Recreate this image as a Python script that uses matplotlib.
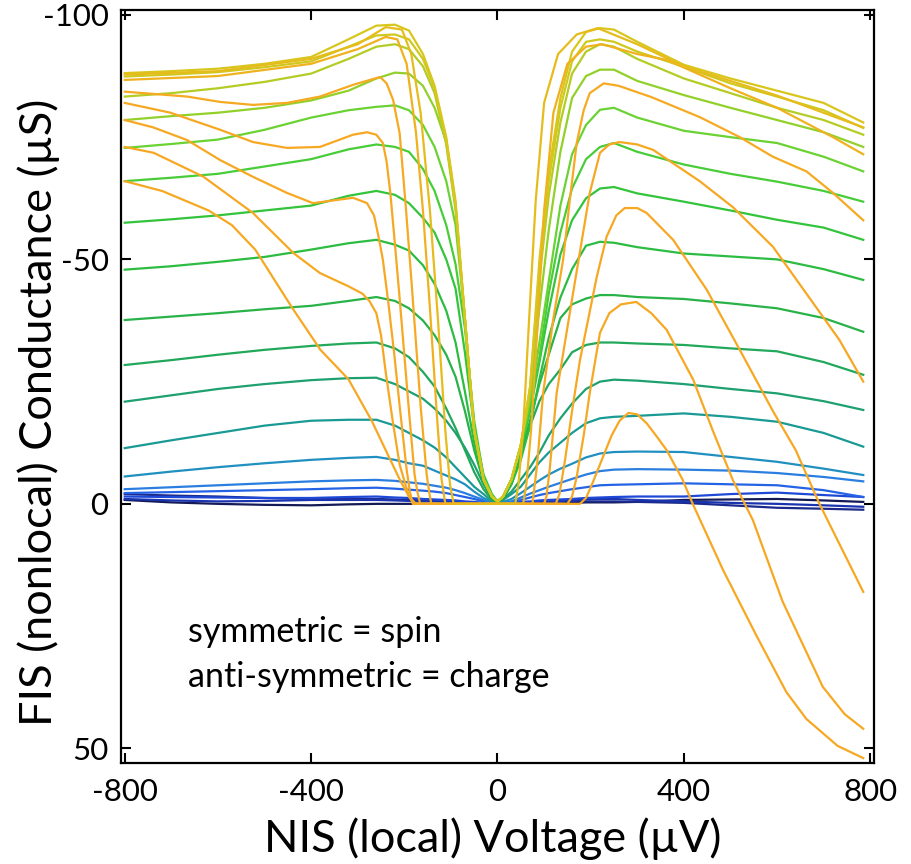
import matplotlib
matplotlib.use("Agg")
import matplotlib.pyplot as plt

plt.rcParams['font.family'] = ['Lato', 'DejaVu Sans']
plt.rcParams['axes.unicode_minus'] = False

# bias grid (uV) shared by the symmetric traces
xg = [-800, -700, -600, -500, -400, -320, -260, -220, -190, -160, -135, -110, -90, -70, -50,
      -30, -12, 0, 12, 30, 50, 70, 90, 110, 135, 160, 190, 220, 250, 300,
      400, 500, 600, 700, 785]

# symmetric traces, top (yellow) to bottom (navy), uS
green_curves = [
    [-88.1, -88.5, -89.0, -90.0, -91.4, -95.0, -97.8, -98.0, -96.8, -92.0, -85.5, -75.0, -62.0, -38.0, -15.0,
     -5.0, -1.5, -0.5, -1.5, -5.0, -12.0, -24.0, -50.0, -68.0, -83.0, -92.5, -96.5, -97.3, -97.0, -94.5,
     -89.8, -87.0, -84.5, -82.0, -78.0],
    [-87.4, -87.8, -88.3, -89.3, -90.5, -93.5, -95.8, -96.0, -95.0, -91.0, -85.0, -74.5, -61.0, -38.0, -15.0,
     -5.0, -1.5, -0.5, -1.5, -5.0, -12.0, -24.0, -48.0, -66.0, -81.0, -90.5, -94.5, -95.0, -94.5, -92.5,
     -89.4, -86.0, -83.3, -80.5, -76.9],
    [-83.3, -84.0, -85.0, -86.3, -88.0, -91.0, -93.5, -94.0, -93.0, -89.5, -84.0, -73.5, -60.0, -37.5, -15.0,
     -5.0, -1.5, -0.5, -1.5, -5.0, -12.0, -23.0, -46.0, -63.0, -78.0, -88.0, -92.5, -94.0, -93.5, -91.0,
     -87.0, -84.0, -81.0, -78.5, -75.5],
    [-78.5, -79.3, -80.0, -81.0, -82.5, -84.5, -87.0, -88.2, -88.0, -85.5, -81.0, -74.0, -61.0, -38.0, -15.0,
     -5.0, -1.5, -0.5, -1.5, -5.0, -12.0, -22.0, -40.0, -56.0, -72.0, -83.0, -87.5, -88.8, -88.8, -86.5,
     -83.6, -81.0, -78.5, -76.0, -73.0],
    [-72.8, -73.6, -74.5, -76.5, -79.0, -80.5, -81.2, -81.5, -80.5, -77.5, -73.0, -66.0, -57.0, -38.0, -15.0,
     -5.0, -1.5, -0.5, -1.5, -5.0, -12.0, -21.0, -33.0, -45.5, -61.0, -71.5, -77.5, -80.6, -81.0, -79.0,
     -76.3, -75.0, -73.8, -71.0, -68.0],
    [-66.0, -66.7, -67.5, -69.0, -70.5, -72.5, -73.5, -73.0, -72.0, -68.5, -64.0, -57.0, -49.0, -36.0, -17.0,
     -5.5, -1.5, -0.5, -1.5, -5.0, -11.5, -20.0, -30.0, -43.0, -55.5, -64.5, -70.5, -73.0, -73.8, -72.0,
     -69.4, -67.5, -65.9, -64.0, -61.8],
    [-57.5, -58.2, -59.0, -60.0, -61.0, -63.0, -64.0, -63.2, -61.5, -58.5, -55.5, -50.0, -44.0, -31.0, -15.5,
     -6.0, -2.0, -0.5, -1.5, -5.0, -11.0, -19.0, -29.0, -39.5, -51.0, -58.0, -62.5, -64.5, -64.8, -63.5,
     -61.8, -60.0, -58.1, -56.5, -54.0],
    [-47.9, -48.6, -49.5, -50.5, -52.0, -53.3, -54.0, -53.0, -51.8, -48.8, -45.0, -39.5, -33.0, -23.0, -12.5,
     -5.0, -1.5, -0.5, -1.5, -4.0, -9.0, -16.0, -25.5, -34.0, -42.2, -48.0, -52.8, -53.6, -53.4, -52.5,
     -51.2, -50.6, -50.0, -48.0, -45.8],
    [-37.6, -38.3, -39.0, -39.8, -40.5, -41.5, -42.3, -41.5, -40.0, -37.5, -34.5, -30.5, -26.0, -19.0, -11.0,
     -4.5, -1.2, -0.4, -1.2, -5.0, -10.5, -17.0, -24.5, -30.5, -38.0, -40.8, -42.0, -42.7, -42.7, -42.3,
     -41.9, -41.0, -40.0, -38.0, -35.2],
    [-28.4, -29.4, -30.5, -31.5, -32.3, -32.8, -33.0, -31.8, -30.0, -27.0, -24.0, -19.5, -15.5, -11.0, -6.5,
     -3.0, -0.8, -0.3, -1.0, -4.0, -10.0, -16.0, -21.0, -24.5, -27.5, -31.0, -32.5, -33.0, -33.0, -32.8,
     -32.5, -31.8, -31.2, -29.0, -26.4],
    [-20.9, -22.2, -23.5, -24.5, -25.3, -25.7, -25.8, -24.5, -23.0, -21.5, -19.5, -17.0, -14.5, -11.5, -8.0,
     -4.0, -1.0, -0.3, -1.0, -2.5, -5.0, -7.5, -10.5, -14.0, -17.5, -20.5, -23.5, -25.0, -25.4, -25.2,
     -24.5, -23.5, -22.6, -21.0, -19.2],
    [-11.4, -13.0, -14.5, -16.0, -17.0, -17.2, -17.2, -16.0, -14.5, -13.0, -11.5, -9.5, -7.5, -5.5, -3.5,
     -2.0, -0.5, -0.2, -0.8, -2.0, -3.5, -6.0, -8.5, -10.5, -12.5, -14.5, -16.5, -17.5, -17.8, -18.0,
     -18.5, -17.8, -16.8, -14.5, -11.7],
    [-5.6, -6.6, -7.5, -8.3, -9.0, -9.4, -9.6, -9.0, -8.3, -7.8, -6.8, -5.8, -5.0, -4.0, -2.5,
     -1.2, -0.4, -0.2, -0.4, -1.0, -2.2, -3.5, -4.8, -6.0, -7.2, -8.2, -9.5, -10.3, -10.6, -10.7,
     -10.6, -9.6, -8.6, -7.2, -5.9],
    [-3.0, -3.4, -3.8, -4.2, -4.6, -4.8, -4.9, -4.7, -4.4, -4.1, -3.7, -3.3, -2.8, -2.2, -1.5,
     -0.8, -0.2, 0.0, -0.2, -0.5, -1.3, -2.1, -2.8, -3.5, -4.3, -5.1, -6.0, -6.7, -7.0, -7.1,
     -7.0, -6.8, -6.3, -5.5, -4.6],
    [-2.2, -2.4, -2.6, -2.8, -3.0, -3.2, -3.3, -3.1, -2.9, -2.7, -2.5, -2.2, -1.8, -1.4, -1.0,
     -0.5, -0.1, 0.0, -0.1, -0.3, -0.8, -1.3, -1.8, -2.2, -2.6, -3.0, -3.4, -3.8, -3.9, -4.0,
     -4.2, -4.0, -3.8, -2.8, -1.4],
    [-1.5, -1.4, -1.3, -1.2, -1.2, -1.4, -1.5, -1.3, -1.2, -1.0, -0.9, -0.8, -0.7, -0.5, -0.4,
     -0.2, -0.1, 0.0, -0.1, -0.2, -0.4, -0.5, -0.7, -0.8, -0.9, -1.0, -1.2, -1.3, -1.4, -1.5,
     -1.5, -2.0, -2.3, -1.8, -1.4],
    [-1.0, -0.7, -0.5, -0.6, -0.8, -0.8, -0.8, -0.7, -0.6, -0.5, -0.5, -0.4, -0.3, -0.3, -0.2,
     -0.1, 0.0, 0.0, 0.0, -0.1, -0.2, -0.3, -0.4, -0.5, -0.6, -0.7, -0.9, -1.0, -1.0, -0.8,
     -0.5, -0.2, 0.0, 0.3, 0.6],
    [-2.0, -1.7, -1.5, -1.2, -1.0, -1.0, -1.0, -0.9, -0.8, -0.7, -0.6, -0.5, -0.4, -0.3, -0.2,
     -0.1, 0.0, 0.0, 0.0, -0.1, -0.2, -0.3, -0.4, -0.4, -0.5, -0.5, -0.5, -0.5, -0.5, -0.4,
     -0.2, 0.3, 0.8, 1.0, 1.2],
    [-0.8, -0.3, 0.0, 0.2, 0.3, 0.1, 0.0, 0.0, 0.0, 0.0, 0.0, 0.0, 0.0, 0.0, 0.0,
     0.0, 0.0, 0.0, 0.0, 0.0, 0.0, 0.0, 0.0, 0.0, -0.1, -0.2, -0.3, -0.3, -0.3, -0.4,
     -0.8, -0.9, -1.0, -0.7, -0.4],
]
green_colors = ['#d9c61c', '#cfc81e', '#b4cc24', '#92d02a', '#6ad232', '#48cc38',
                '#34c43c', '#2cbc42', '#28b248', '#22a85a', '#1ea070', '#1a9a94',
                '#2090c0', '#2a7ee0', '#2462e6', '#1e48d6', '#1a34b0', '#1c2a8c',
                '#141a55']

# anti-symmetric (orange) traces, widest gap first
orange_x = [
    [-800, -720, -620, -570, -520, -480, -440, -380, -320, -270, -240, -210, -190, -175, 0,
     177, 190, 205, 226, 245, 262, 281, 300, 320, 340, 363, 397, 419, 484, 556, 620, 663, 730, 785],
    [-800, -738, -631, -525, -438, -381, -320, -290, -275, -260, -250, -240, -225, -210, -190, -180,
     150, 160, 170, 185, 198, 220, 240, 265, 298, 330, 363, 420, 462, 505, 548, 612, 698, 745, 785],
    [-800, -739, -666, -595, -525, -452, -396, -310, -280, -265, -255, -246, -235, -222, -210, -195, -188, -182,
     125, 133, 145, 160, 177, 213, 234, 255, 273, 300, 320, 377, 449, 520, 591, 640, 691, 785],
    [-800, -702, -595, -525, -452, -381, -310, -280, -260, -246, -238, -230, -220, -210, -190, -178, -172, -166,
     100, 105, 112, 127, 162, 198, 220, 240, 262, 300, 334, 434, 505, 591, 663, 734, 785],
    [-800, -666, -595, -525, -452, -381, -310, -252, -238, -224, -210, -197, -185, -165, -152, -146, -142,
     75, 85, 98, 120, 141, 155, 170, 185, 198, 228, 260, 330, 434, 520, 591, 663, 720, 785],
    [-800, -600, -400, -300, -240, -215, -195, -175, -160, -145, -130, -120, -112,
     55, 62, 72, 85, 100, 120, 150, 190, 225, 300, 363, 500, 600, 720, 785],
    [-800, -600, -400, -300, -240, -205, -185, -165, -145, -128, -112, -102, -94,
     38, 45, 55, 68, 82, 100, 130, 170, 215, 300, 400, 600, 785],
]
orange_y = [
    [-66, -64, -60, -57, -52, -46, -40, -31.5, -25.5, -17, -11, -5, -1.5, 0, 0,
     0, -1.2, -4.5, -9.5, -14, -17, -18.6, -18.3, -16.5, -14, -11, -5, 0, 13.5, 27, 38.5, 44, 49.5, 52],
    [-73, -71.8, -66.9, -59.5, -51.3, -47.2, -44.5, -43, -41.5, -39, -34.5, -27, -17, -8, -1.5, 0,
     0, -1.5, -5.5, -14, -22.7, -35, -39, -40.8, -41.3, -39, -35.6, -25.4, -15, -4.9, 3.3, 20, 37.4, 43, 46],
    [-78.5, -77, -74.4, -70.3, -66.9, -63.6, -61.5, -62.6, -61.5, -59, -54.5, -49.9, -41.7, -31, -20, -7, -2.5, 0,
     0, -2, -9, -19, -29.4, -46.4, -54.6, -59, -60.5, -60.5, -59.5, -54, -43.8, -31.5, -19, -11, 0, 18],
    [-82, -80, -76.5, -74, -72.8, -73, -75.5, -76, -75.5, -73.8, -70, -63.6, -53, -42, -19, -6, -2.5, 0,
     0, -1.5, -7, -22.7, -43, -63.6, -71.8, -73.5, -74, -73.5, -72.4, -66, -60.7, -52.6, -43, -33.5, -25],
    [-84.3, -83.3, -82.2, -81.6, -82, -83.3, -85.7, -87.3, -86, -82.6, -75.8, -61, -46, -20, -6, -2, 0,
     0, -8, -22.7, -38, -50, -62, -73.8, -80.5, -84, -86, -85.5, -83.2, -79.1, -75, -71, -68, -63.6, -58],
    [-86.7, -87.5, -90, -93, -95.5, -95, -90, -76, -60, -40, -18, -5, 0,
     0, -4, -15, -35, -60, -80, -90, -93.5, -94, -92, -90.8, -85, -81, -75, -71.5],
    [-87.8, -88.5, -91, -94, -97.5, -97, -92, -80, -60, -38, -15, -4, 0,
     0, -4, -15, -38, -62, -82, -92, -96, -97.3, -94, -89.5, -83.5, -77],
]
orange_colors = ['#f7a823', '#f7a823', '#f7a823', '#f7a823', '#f5aa22', '#efb21e', '#e6bc1c']

fig = plt.figure(figsize=(9.12, 8.64), dpi=100)
ax = fig.add_axes([0.1327, 0.1169, 0.8256, 0.8715])

# blue/green traces first, orange on top
for ys, c in zip(green_curves[::-1], green_colors[::-1]):
    ax.plot(xg, ys, color=c, lw=1.6, solid_joinstyle='round')
for xs, ys, c in zip(orange_x, orange_y, orange_colors):
    ax.plot(xs, ys, color=c, lw=1.6, solid_joinstyle='round')

ax.set_xlim(-808, 808)
ax.set_ylim(53, -101)
ax.set_xticks([-800, -400, 0, 400, 800])
ax.set_yticks([-100, -50, 0, 50])
ax.tick_params(direction='in', top=True, right=True, length=7, width=1.5,
               labelsize=22.5)
ax.tick_params(axis='x', pad=11)
ax.tick_params(axis='y', pad=9)
for s in ax.spines.values():
    s.set_linewidth(1.6)

ax.set_xlabel('NIS (local) Voltage (µV)', fontsize=32.5)
ax.set_ylabel('FIS (nonlocal) Conductance (µS)', fontsize=32.5)
ax.xaxis.set_label_coords(0.493, -0.072)
ax.yaxis.set_label_coords(-0.081, 0.466)

ax.text(-664, 26.2, 'symmetric = spin', fontsize=24.5, va='center', ha='left')
ax.text(-664, 35.4, 'anti-symmetric = charge', fontsize=24.5, va='center', ha='left')

fig.savefig('out.png', dpi=100)
